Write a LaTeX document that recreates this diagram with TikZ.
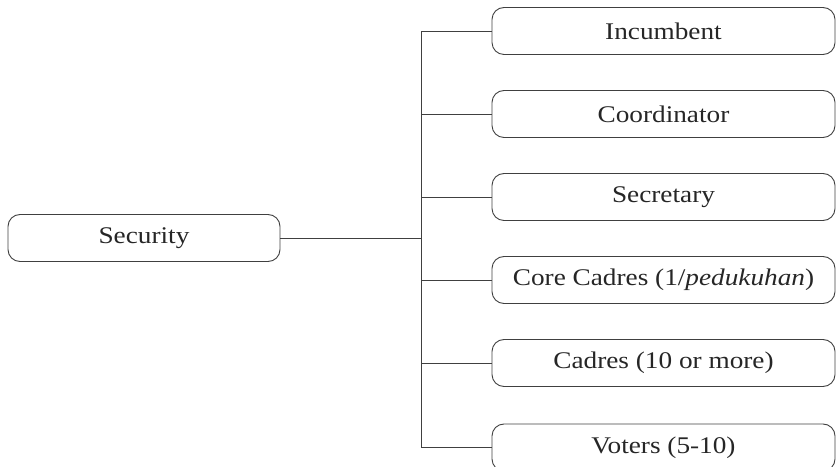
\documentclass[tikz,border=0pt]{standalone}
\usepackage{fontspec}
\setmainfont{Liberation Serif}[FakeStretch=1.14]
\begin{document}
\begin{tikzpicture}[x=1bp,y=-1bp,
  role/.style={draw=black!75, line width=0.9bp, rounded corners=12bp, minimum width=343bp, minimum height=47bp, inner sep=0pt, text=black!85, font=\fontsize{24}{27}\selectfont},
  link/.style={draw=black!75, line width=0.9bp}]
\useasboundingbox (0,0) rectangle (836,467);
\node[role, minimum width=272bp] (security) at (144,238) {Security};

\node[role] (inc) at (663.5,31) {Incumbent};
\node[role] (coord) at (663.5,114) {Coordinator};
\node[role] (secr) at (663.5,197) {Secretary};
\node[role] (core) at (663.5,280) {Core Cadres (1/\textit{pedukuhan})};
\node[role] (cadres) at (663.5,363) {Cadres (10 or more)};
\node[role] (voters) at (663.5,447.5) {Voters (5-10)};

\coordinate (bot) at (421,447.5);

\path[link] (security) -- (security -| bot);
\path[link] (inc.west) -| (bot);
\path[link] (coord.west) -| (bot);
\path[link] (secr.west) -| (bot);
\path[link] (core.west) -| (bot);
\path[link] (cadres.west) -| (bot);
\path[link] (voters.west) -- (bot);
\end{tikzpicture}
\end{document}
